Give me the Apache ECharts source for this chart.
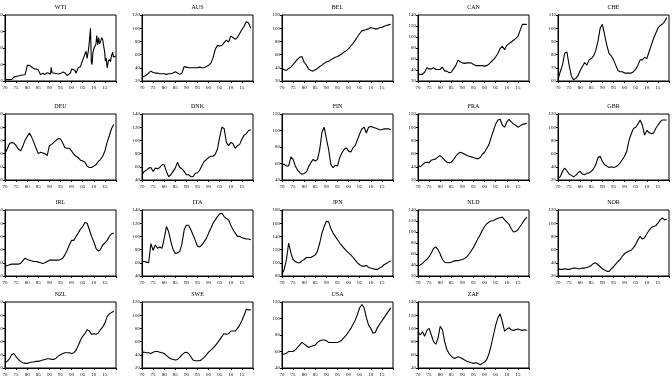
<!DOCTYPE html>
<html><head><meta charset="utf-8">
<script src="https://cdn.jsdelivr.net/npm/echarts@6/dist/echarts.min.js"></script>
<style>html,body{margin:0;padding:0;background:#fff}#c{width:672px;height:378px}</style>
</head><body><div id="c"></div>
<script>
const years = [1970,1971,1972,1973,1974,1975,1976,1977,1978,1979,1980,1981,1982,1983,1984,1985,1986,1987,1988,1989,1990,1991,1992,1993,1994,1995,1996,1997,1998,1999,2000,2001,2002,2003,2004,2005,2006,2007,2008,2009,2010,2011,2012,2013,2014,2015,2016,2017,2018,2019];
const xTickLabels = ['70','75','80','85','90','95','00','05','10','15'];

const wtiYears = [1970,1973,1973.9,1974.1,1974.5,1975,1976,1977,1978,1979,1979.5,1980,1980.5,1981,1982,1983,1984,1985,1985.5,1986,1986.5,1987,1988,1989,1990.5,1990.8,1991.2,1992,1993,1994,1995,1996,1997,1998,1998.9,1999.5,2000,2000.8,2001.5,2001.9,2002.5,2003,2003.5,2004,2004.8,2005.5,2005.9,2006.5,2007,2007.5,2007.9,2008.5,2008.9,2009.2,2009.6,2010,2010.5,2011,2011.3,2011.8,2012.2,2012.6,2013,2013.6,2014,2014.5,2014.9,2015.2,2015.6,2016,2016.5,2017,2017.5,2018,2018.5,2018.8,2019,2019.5,2019.9];
const wti = [3.3,3.6,4,10,11,11,12,14,14.5,15,25,38,39,38,34,30,29,27,28,15,12,19,16,20,17,33,20,21,18,17,18,22,20,13,11,20,29,33,26,19,26,32,29,35,48,58,58,72,55,72,90,128,45,40,68,78,76,90,110,88,105,90,95,105,100,104,70,48,55,32,47,52,47,62,70,58,55,56,60];

const aus = [26,27,29,32,35,33,32,32,31,31,31,30,31,31,32,34,32,30,32,42,41,40,40,40,40,40,41,40,40,42,44,47,55,68,74,73,74,78,82,79,88,86,83,86,92,98,103,110,108,100];
const bel = [39,37,36,39,41,45,49,53,56,57,48,44,38,36,35,37,39,42,44,47,49,50,52,54,56,57,59,61,64,66,69,73,77,82,87,92,96,97,98,99,101,100,99,99,101,101,103,104,105,106];
const can = [32,32,32,36,44,42,42,44,41,41,41,45,38,38,35,36,42,48,58,55,53,52,53,53,53,50,48,48,48,48,47,48,51,55,59,64,70,79,83,77,85,88,91,94,97,101,112,123,123,123];
const che = [61,67,72,81,82,72,64,61,62,64,68,71,74,72,76,77,79,83,90,100,103,95,87,81,79,76,72,68,67,67,66,66,66,66,67,69,72,76,76,78,77,82,87,92,96,100,102,103,105,108];
const deu = [100,107,115,117,116,112,107,104,111,120,126,131,125,117,108,100,102,101,100,97,112,114,117,120,123,122,116,109,108,108,104,99,96,94,90,89,87,81,79,79,81,83,88,91,96,104,117,127,138,144];
const dnk = [48,53,55,58,59,53,58,57,59,63,63,53,45,48,53,58,67,59,57,53,48,48,45,45,50,51,55,62,68,71,74,76,76,79,87,105,120,118,97,92,97,95,88,92,94,102,108,110,115,116];
const fin = [59,59,57,57,68,65,57,52,49,47,48,50,56,61,65,63,65,77,98,104,90,77,59,55,58,57,67,73,77,79,75,74,79,82,89,96,102,104,97,104,105,104,103,102,101,101,102,102,102,101];
const fra = [43,40,43,46,47,46,50,51,52,55,57,54,50,47,46,47,51,56,60,62,61,59,57,56,55,54,53,52,54,59,62,68,74,85,95,105,111,112,103,100,108,112,108,105,103,100,102,104,105,106];
const gbr = [22,25,33,38,34,29,27,25,27,31,33,29,28,30,31,33,37,43,54,56,48,43,41,39,40,39,40,42,46,51,56,64,80,90,98,100,105,111,103,88,95,92,90,91,98,103,108,111,111,111];
const irl = [55,56,57,58,58,58,58,59,63,67,65,64,63,62,62,61,60,59,60,62,64,64,64,64,64,65,67,72,79,87,94,94,100,105,111,115,121,120,110,100,92,82,78,80,87,90,94,100,104,105];
const ita = [62,62,61,60,89,79,87,82,84,82,97,115,107,92,80,74,75,77,89,110,117,117,110,102,94,85,84,87,92,97,105,112,120,125,130,134,135,130,127,125,117,110,105,100,100,98,97,96,96,95];
const jpn = [83,90,105,130,115,105,102,100,100,103,105,108,108,108,110,112,118,130,145,155,163,162,152,145,140,135,130,126,122,118,115,112,108,104,100,97,95,95,96,93,92,91,90,90,92,94,97,99,101,103];
const nld = [38,40,43,47,50,55,62,70,73,68,60,50,45,44,44,45,47,48,48,49,50,52,55,60,66,72,80,88,95,103,110,115,118,120,121,123,125,126,127,122,118,114,106,100,101,104,110,116,122,127];
const nor = [31,30,30,31,30,30,31,32,32,31,31,32,32,33,34,36,39,40,37,34,31,29,27,27,31,34,38,42,45,50,54,56,58,59,63,68,75,80,76,78,84,89,93,95,96,100,105,108,105,106];
const nzl = [28,30,34,40,42,37,33,30,28,27,27,28,29,29,30,30,31,32,33,34,34,33,33,35,38,40,42,43,43,43,42,43,47,54,62,68,72,78,76,71,72,71,73,78,82,88,98,102,104,106];
const swe = [44,44,43,43,42,44,45,45,44,43,42,39,36,34,33,32,33,36,40,43,44,42,37,32,31,31,31,33,36,40,44,47,50,54,58,63,68,72,71,72,76,76,76,80,85,92,100,109,108,108];
const usa = [56,57,58,60,60,60,62,65,68,71,69,67,65,66,67,68,71,73,74,74,73,71,71,71,71,71,72,74,77,80,84,88,93,98,105,113,117,113,101,92,88,82,83,89,93,97,101,105,109,113];
const zaf = [95,90,95,88,97,100,90,80,76,85,103,98,80,68,62,58,55,55,57,56,54,52,50,49,48,47,48,47,45,47,49,53,62,75,90,105,116,122,110,96,99,101,98,97,98,99,98,97,98,97];

const names = ['WTI','AUS','BEL','CAN','CHE','DEU','DNK','FIN','FRA','GBR','IRL','ITA','JPN','NLD','NOR','NZL','SWE','USA','ZAF'];
const series = [null,aus,bel,can,che,deu,dnk,fin,fra,gbr,irl,ita,jpn,nld,nor,nzl,swe,usa,zaf];
const yMins = [0,20,20,20,60,60,40,40,20,20,40,40,80,20,20,20,20,40,40];
const yMaxs = [160,120,120,140,110,160,140,120,120,120,140,140,180,140,120,120,120,120,140];
const yIntervals = [40,20,20,20,10,20,20,20,20,20,20,20,20,20,20,20,20,20,20];

const colLeft = [5,142,282,418,558];
const rowTop = [15,114,210,302];
const W = 111, H = 66;
const FONT = 'Liberation Serif';

const grids = [], xAxes = [], yAxes = [], titles = [], sers = [];
names.forEach((nm, i) => {
  const r = Math.floor(i / 5), c = i % 5;
  const l = colLeft[c], t = rowTop[r];
  grids.push({left: l, top: t, width: W, height: H, containLabel: false, outerBoundsMode: 'none',
    show: true, borderColor: '#000', borderWidth: 1, backgroundColor: 'transparent'});
  xAxes.push({type: 'value', gridIndex: i, min: 1970, max: 2020, interval: 5,
    axisLine: {show: true, lineStyle: {color: '#000', width: 1}},
    axisTick: {show: true, length: 2, lineStyle: {color: '#000'}},
    splitLine: {show: false},
    axisLabel: {fontSize: 5, fontFamily: FONT, color: '#000', margin: 4, hideOverlap: false,
      formatter: v => { const k = (v - 1970) / 5; return (v < 2020 && Number.isInteger(k)) ? xTickLabels[k] : ''; }}});
  yAxes.push({type: 'value', gridIndex: i, min: yMins[i], max: yMaxs[i], interval: yIntervals[i],
    axisLine: {show: true, lineStyle: {color: '#000', width: 1}},
    axisTick: {show: true, length: 2, lineStyle: {color: '#000'}},
    splitLine: {show: false},
    axisLabel: {fontSize: 5, fontFamily: FONT, color: '#000', margin: 2, hideOverlap: false}});
  titles.push({text: nm, left: l + W / 2, top: t - 11, textAlign: 'center', padding: 0,
    textStyle: {fontSize: 6, fontWeight: 'normal', fontFamily: FONT, color: '#000'}});
  const data = (i === 0) ? wtiYears.map((y, k) => [y, wti[k]]) : years.map((y, k) => [y, series[i][k]]);
  sers.push({type: 'line', xAxisIndex: i, yAxisIndex: i, data: data, showSymbol: false, symbol: 'none',
    lineStyle: {color: '#000', width: 1.1}, smooth: false, animation: false});
});

const chart = echarts.init(document.getElementById('c'), null, {renderer: 'canvas'});
chart.setOption({backgroundColor: '#fff', animation: false, title: titles, grid: grids, xAxis: xAxes, yAxis: yAxes, series: sers});
</script></body></html>
